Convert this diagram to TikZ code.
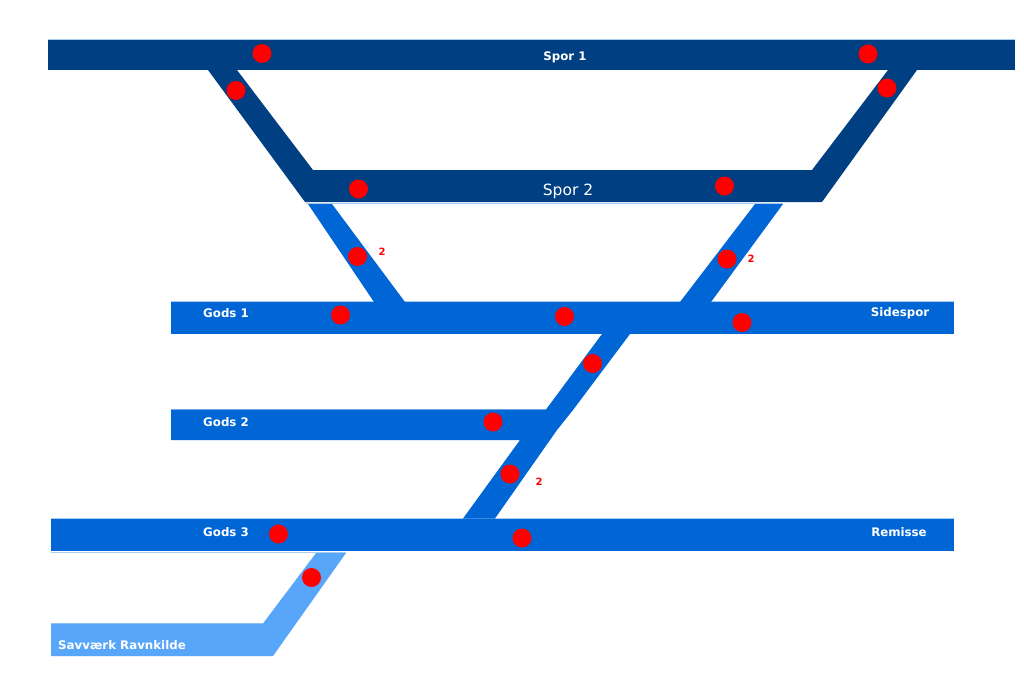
\documentclass[tikz,border=0pt]{standalone}
\usepackage{fontspec}
\setmainfont{DejaVu Sans}
\definecolor{spordark}{HTML}{003F82}
\definecolor{sporblue}{HTML}{0066D5}
\definecolor{sporlight}{HTML}{57A6FA}
\definecolor{sporedge}{HTML}{A9CDF2}

\begin{document}
\begin{tikzpicture}[
  x=1pt,
  y=-1pt,
  main/.style={
    fill=spordark
  },
  gods/.style={
    fill=sporblue
  },
  savvaerk/.style={
    fill=sporlight
  },
  edgeline/.style={
    draw=sporedge,
    line width=0.7pt
  },
  label/.style={
    text=white,
    inner sep=0pt,
    font=\fontsize{11.8}{14}\selectfont\bfseries
  },
  signal/.style={
    circle,
    fill=red,
    inner sep=0pt,
    minimum size=19pt
  },
  count/.style={
    text=red,
    inner sep=0pt,
    font=\fontsize{10}{11}\selectfont\bfseries
  }
]

\useasboundingbox[fill=white] (0,0) rectangle (1024,674);

% --------------------
% Thin pale edges
% --------------------
\draw[edgeline] (48,39.5) -- (1015,39.5);
\draw[edgeline] (313,170) -- (812,170);
\draw[edgeline] (306,203.5) -- (783,203.5);
\draw[edgeline] (171,301.5) -- (954,301.5);
\draw[edgeline] (171,409) -- (546,409);
\draw[edgeline] (51,518) -- (954,518);
\draw[edgeline] (51,552) -- (346,552);
\draw[edgeline] (51,623) -- (263,623);

% --------------------
% Main tracks
% --------------------
\fill[main] (48,40) rectangle (1015,70);
\fill[main] (208,70) -- (237,70) -- (313,170) -- (812,170) -- (888,70)
  -- (917,70) -- (822,202) -- (305,202) -- cycle;

% --------------------
% Goods tracks
% --------------------
\fill[gods] (308,204) -- (332,204) -- (405,302) -- (374,302) -- cycle;
\fill[gods] (755,204) -- (783,204) -- (711,302) -- (680,302) -- cycle;
\fill[gods] (171,302) rectangle (954,334);
\fill[gods] (171,409.5) -- (546,409.5) -- (602,334) -- (630,334) -- (573,410)
  -- (557,430) -- (495,518.5) -- (463,518.5) -- (520,440) -- (171,440) -- cycle;
\fill[gods] (51,518.5) rectangle (954,551);

% --------------------
% Sawmill branch
% --------------------
\fill[savvaerk] (316,553) -- (346,553) -- (273,656) -- (51,656) -- (51,623.5)
  -- (263,623.5) -- cycle;

% --------------------
% Labels
% --------------------
\node[label] (spor1) at (565,57) {Spor 1};
\node[label, font=\fontsize{15.5}{17}\selectfont] (spor2) at (568,191) {Spor 2};
\node[label] (gods1) at (226,313) {Gods 1};
\node[label] (sidespor) at (900,313) {Sidespor};
\node[label] (gods2) at (226,422) {Gods 2};
\node[label] (gods3) at (226,532) {Gods 3};
\node[label] (remisse) at (899,532) {Remisse};
\node[label] (savv) at (122,645) {Savværk Ravnkilde};

% --------------------
% Signals
% --------------------
\node[signal] (s1) at (262,53.5) {};
\node[signal] (s2) at (868,54) {};
\node[signal] (s3) at (236,90.5) {};
\node[signal] (s4) at (887,88) {};
\node[signal] (s5) at (358.5,189) {};
\node[signal] (s6) at (724.5,186) {};
\node[signal] (s7) at (357.5,256.5) {};
\node[signal] (s8) at (727,259) {};
\node[signal] (s9) at (340.5,315) {};
\node[signal] (s10) at (564.5,316.5) {};
\node[signal] (s11) at (742,322.5) {};
\node[signal] (s12) at (592.5,363.5) {};
\node[signal] (s13) at (493,422) {};
\node[signal] (s14) at (510,474) {};
\node[signal] (s15) at (278.5,534) {};
\node[signal] (s16) at (522,538) {};
\node[signal] (s17) at (311.5,577.5) {};

% --------------------
% Counts
% --------------------
\node[count] (c1) at (382,252) {2};
\node[count] (c2) at (751,259) {2};
\node[count] (c3) at (539,482) {2};

\end{tikzpicture}
\end{document}
